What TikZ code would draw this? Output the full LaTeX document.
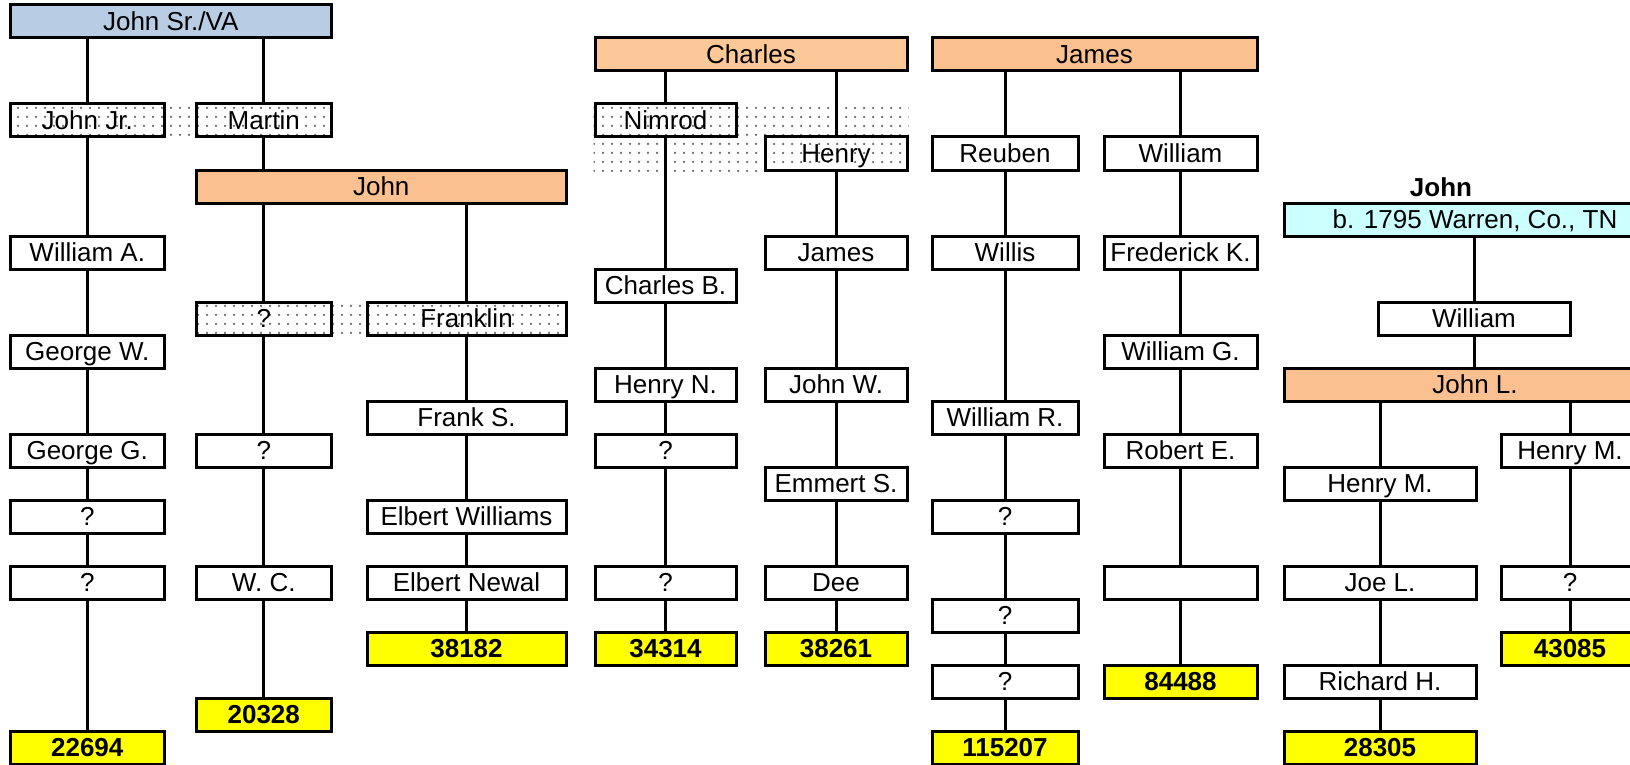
\documentclass[tikz,border=0pt]{standalone}
\usepackage{fontspec}
\setmainfont{Liberation Sans}
\usetikzlibrary{patterns.meta,backgrounds}
\definecolor{hblue}{RGB}{184,204,228}
\definecolor{horange}{RGB}{250,192,144}
\definecolor{hcharles}{RGB}{252,200,152}
\definecolor{hcyan}{RGB}{204,255,255}
\definecolor{hyellow}{RGB}{255,255,0}
\newcommand\gbox[6][]{%
  \pgfmathsetmacro\gbcx{(#3+#4)/2}%
  \pgfmathsetmacro\gbw{#4-#3}%
  \pgfmathsetmacro\gbcy{21.5+33*#5}%
  \node[gb,#1,minimum width=\gbw pt] (#2) at (\gbcx,\gbcy) {#6};}
\tikzset{
  gb/.style={draw, line width=3pt, fill=white, inner sep=0pt, minimum height=33pt,
    text height=18.6pt, text depth=0pt, font=\fontsize{26pt}{30pt}\selectfont},
  dbox/.style={fill=none},
  numbox/.style={fill=hyellow, font=\fontsize{26pt}{30pt}\selectfont\bfseries},
  conn/.style={line width=3pt},
  dotband/.style={pattern={Dots[distance=9pt, radius=1.25pt]}, pattern color=black!60}
}
\begin{document}
\begin{tikzpicture}[x=1pt,y=-1pt]
\useasboundingbox (0,0) rectangle (1630,765);
\clip (0,0) rectangle (1630,765);
% John Sr./VA
\gbox[fill=hblue]{jsr}{10.5}{331}{0}{John Sr./VA}
\gbox[dbox]{jjr}{10.5}{164}{3}{John Jr.}
\gbox[dbox]{martin}{196.5}{331}{3}{Martin}
\gbox[fill=horange]{johnO}{196.5}{566}{5}{John}
\gbox{willA}{10.5}{164}{7}{William A.}
\gbox{georgeW}{10.5}{164}{10}{George W.}
\gbox{georgeG}{10.5}{164}{13}{George G.}
\gbox{aq15}{10.5}{164}{15}{?}
\gbox{aq17}{10.5}{164}{17}{?}
\gbox[numbox]{nA}{10.5}{164}{22}{22694}
\gbox[dbox]{bq9}{196.5}{331}{9}{?}
\gbox{bq13}{196.5}{331}{13}{?}
\gbox{wc}{196.5}{331}{17}{W. C.}
\gbox[numbox]{nB}{196.5}{331}{21}{20328}
\gbox[dbox]{franklin}{367}{566}{9}{Franklin}
\gbox{frankS}{367}{566}{12}{Frank S.}
\gbox{elbW}{367}{566}{15}{Elbert Williams}
\gbox{elbN}{367}{566}{17}{Elbert Newal}
\gbox[numbox]{nC}{367}{566}{19}{38182}
% Charles
\gbox[fill=hcharles]{charles}{595}{907}{1}{Charles}
\gbox[dbox]{nimrod}{595}{736}{3}{Nimrod}
\gbox[dbox]{henry}{765}{907}{4}{Henry}
\gbox{charlesB}{595}{736}{8}{Charles B.}
\gbox{henryN}{595}{736}{11}{Henry N.}
\gbox{dq13}{595}{736}{13}{?}
\gbox{dq17}{595}{736}{17}{?}
\gbox[numbox]{nD}{595}{736}{19}{34314}
\gbox{jamesE}{765}{907}{7}{James}
\gbox{johnW}{765}{907}{11}{John W.}
\gbox{emmertS}{765}{907}{14}{Emmert S.}
\gbox{dee}{765}{907}{17}{Dee}
\gbox[numbox]{nE}{765}{907}{19}{38261}
% James
\gbox[fill=horange]{jamesO}{932}{1257}{1}{James}
\gbox{reuben}{932}{1078}{4}{Reuben}
\gbox{willis}{932}{1078}{7}{Willis}
\gbox{williamR}{932}{1078}{12}{William R.}
\gbox{fq15}{932}{1078}{15}{?}
\gbox{fq18}{932}{1078}{18}{?}
\gbox{fq20}{932}{1078}{20}{?}
\gbox[numbox]{nF}{932}{1078}{22}{115207}
\gbox{williamG4}{1104}{1257}{4}{William}
\gbox{frederick}{1104}{1257}{7}{Frederick K.}
\gbox{williamG}{1104}{1257}{10}{William G.}
\gbox{robertE}{1104}{1257}{13}{Robert E.}
\gbox{gblank}{1104}{1257}{17}{}
\gbox[numbox]{nG}{1104}{1257}{20}{84488}
% John b. 1795
\node[font=\fontsize{26pt}{30pt}\selectfont\bfseries, inner sep=0pt] (jlabel) at (1441,187) {John};
\gbox[fill=hcyan]{born}{1284}{1666}{6}{b. 1795 Warren, Co., TN}
\gbox{williamH}{1378}{1570}{9}{William}
\gbox[fill=horange]{johnL}{1284}{1666}{11}{John L.}
\gbox{henryM1}{1284}{1476}{14}{Henry M.}
\gbox{joeL}{1284}{1476}{17}{Joe L.}
\gbox{richardH}{1284}{1476}{20}{Richard H.}
\gbox[numbox]{nH}{1284}{1476}{22}{28305}
\gbox{henryM2}{1501}{1639}{13}{Henry M.}
\gbox{iq17}{1501}{1639}{17}{?}
\gbox[numbox]{nI}{1501}{1639}{19}{43085}
% dotted bands
\begin{scope}[on background layer]
\path[dotband] (jjr.north west) rectangle (martin.south east);
\path[dotband] (bq9.north west) rectangle (franklin.south east);
\path[dotband] (nimrod.north west) rectangle (henry.south east);
\end{scope}
% connectors
\foreach \a/\b in {jsr/jjr, jsr/martin, jjr/willA, willA/georgeW, georgeW/georgeG,
  georgeG/aq15, aq15/aq17, aq17/nA, johnO/bq9, johnO/franklin, bq9/bq13, bq13/wc, wc/nB,
  franklin/frankS, frankS/elbW, elbW/elbN, elbN/nC,
  charles/nimrod, charles/henry, nimrod/charlesB, charlesB/henryN, henryN/dq13, dq13/dq17, dq17/nD,
  henry/jamesE, jamesE/johnW, johnW/emmertS, emmertS/dee, dee/nE,
  jamesO/reuben, jamesO/williamG4, reuben/willis, willis/williamR, williamR/fq15, fq15/fq18, fq18/fq20, fq20/nF,
  williamG4/frederick, frederick/williamG, williamG/robertE, robertE/gblank, gblank/nG,
  johnL/henryM1, johnL/henryM2, henryM1/joeL, joeL/richardH, richardH/nH, henryM2/iq17, iq17/nI}
  \draw[conn] (\a.south -| \b.north) -- (\b.north);
\draw[conn] (martin.south) -- (martin.south |- johnO.north);
\draw[conn] (born.south -| williamH.north) -- (williamH.north);
\draw[conn] (williamH.south) -- (williamH.south |- johnL.north);
\end{tikzpicture}
\end{document}
